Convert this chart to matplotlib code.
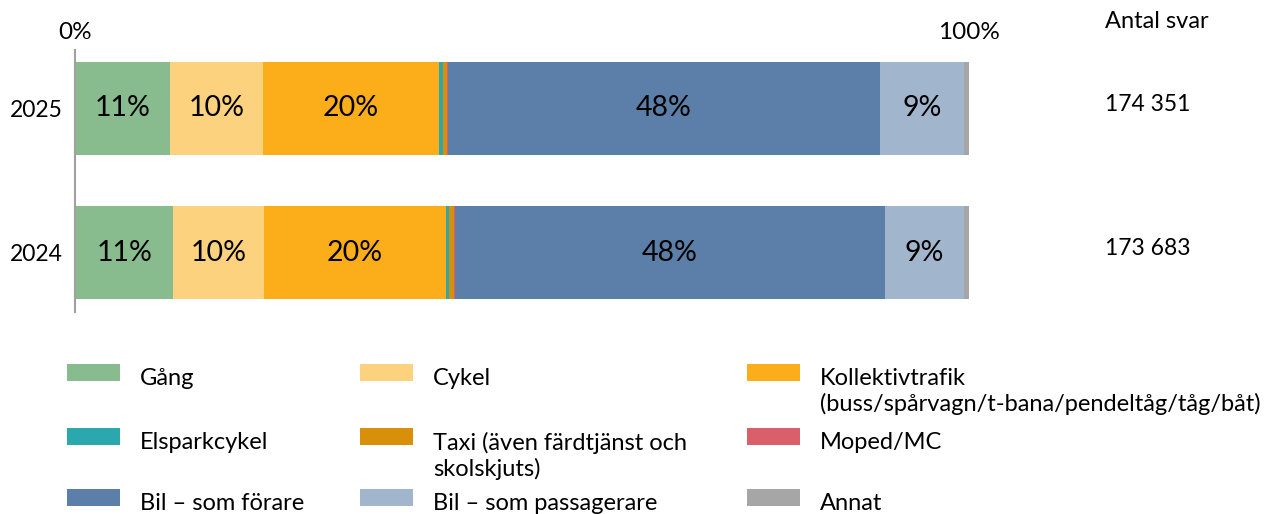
import numpy as np
import matplotlib
matplotlib.use("Agg")
import matplotlib.pyplot as plt
from matplotlib.patches import Rectangle
import matplotlib.transforms as mtransforms

plt.rcParams['font.family'] = ['Lato', 'DejaVu Sans']

years = ['2025', '2024']
answers = ['174 351', '173 683']
categories = ['Gång', 'Cykel', 'Kollektivtrafik\n(buss/spårvagn/t-bana/pendeltåg/tåg/båt)',
              'Elsparkcykel', 'Taxi (även färdtjänst och\nskolskjuts)', 'Moped/MC',
              'Bil – som förare', 'Bil – som passagerare', 'Annat']
# share in percent, in category order
share_2025 = [10.6, 10.4, 19.7, 0.45, 0.5, 0.05, 48.3, 9.45, 0.55]
share_2024 = [11.0, 10.1, 20.4, 0.35, 0.55, 0.05, 48.1, 8.9, 0.55]
colors = ['#88BB8E', '#FCD27F', '#FBAE1A', '#2BA8AE', '#D8900A', '#D95F6B',
          '#5B7FA8', '#A1B5CD', '#A6A6A6']

fig = plt.figure(figsize=(12.77, 5.14), dpi=100)
W, H = 1277, 514
ax = fig.add_axes([75 / W, 1 - 312 / H, 894 / W, 262 / H])

ypos = [1, 0]
data = [share_2025, share_2024]
for y, vals in zip(ypos, data):
    left = 0.0
    for i, val in enumerate(vals):
        v = val / 100
        ax.barh(y, v, left=left, height=0.646, color=colors[i], linewidth=0)
        if val >= 5:
            ax.text(left + v / 2, y, f"{round(val)}%", ha='center', va='center',
                    fontsize=20.5, color='black')
        left += v

ax.set_xlim(0, 1)
ax.set_ylim(-0.413, 1.406)
ax.set_yticks(ypos)
ax.set_yticklabels(years, fontsize=16.5)
ax.xaxis.tick_top()
ax.set_xticks([0, 1])
ax.set_xticklabels(['0%', '100%'], fontsize=17.5)
ax.tick_params(axis='both', length=0)
ax.tick_params(axis='y', pad=9)
ax.tick_params(axis='x', pad=5)
for s in ['top', 'right', 'bottom']:
    ax.spines[s].set_visible(False)
ax.spines['left'].set_color('#A0A0A0')
ax.spines['left'].set_linewidth(1.5)

# Antal svar column
trans = mtransforms.blended_transform_factory(ax.transAxes, ax.transData)
xr = (1105 - 75) / 894
ax.text(xr, 1.406 + 0.195, 'Antal svar', transform=trans, ha='left', va='center',
        fontsize=17, clip_on=False)
for y, a in zip(ypos, answers):
    ax.text(xr, y + 0.03, a, transform=trans, ha='left', va='center', fontsize=16.5)

# legend, row-wise in three columns
col_x = [67, 360, 747]
row_y = [372, 436, 497]
for k, lab in enumerate(categories):
    r, c = divmod(k, 3)
    px, py = col_x[c], row_y[r]
    fig.add_artist(Rectangle((px / W, 1 - (py + 8.5) / H), 53 / W, 17 / H,
                             transform=fig.transFigure, color=colors[k], linewidth=0))
    fig.text((px + 73) / W, 1 - (py - 4) / H, lab, ha='left', va='top',
             fontsize=17, linespacing=1.2)

fig.savefig('out.png', dpi=100)
